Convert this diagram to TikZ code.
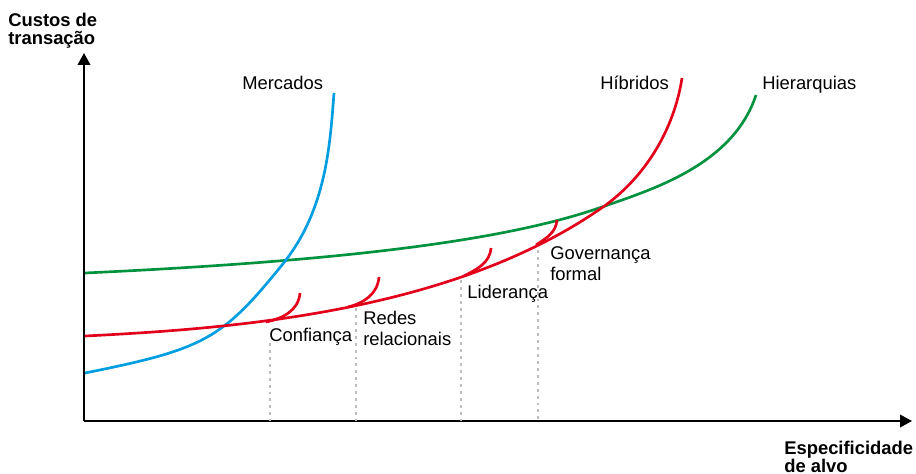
\documentclass[tikz,border=0pt]{standalone}
\usepackage{fontspec}
\setmainfont{Liberation Sans}
\usetikzlibrary{arrows.meta}
\definecolor{mktblue}{RGB}{0,158,224}
\definecolor{hybred}{RGB}{226,0,26}
\definecolor{hiergreen}{RGB}{0,146,63}
\begin{document}
\begin{tikzpicture}[x=0.75pt,y=0.75pt,>={Triangle[length=9pt,width=9.5pt]},
  axis/.style={line width=1.2pt,->},
  curve/.style={line width=2pt},
  guide/.style={gray!50,line width=1.1pt,dash pattern=on 2.2pt off 3pt},
  lbl/.style={inner sep=0pt,font=\fontsize{13.8}{15.5}\selectfont,align=left},
  axlbl/.style={inner sep=0pt,font=\fontsize{13.8}{13.5}\selectfont\bfseries,align=left}]
  \useasboundingbox (0,0) rectangle (916,-474);

  \coordinate (O) at (84,-421);
  \coordinate (Y) at (84,-53);
  \coordinate (X) at (912,-421);
  \draw[axis] (O) -- (Y);
  \draw[axis] (O) -- (X);

  \node[axlbl,anchor=base west] (yl) at (8,-45) {Custos de\\transação};
  \node[axlbl,anchor=base west] (xl) at (784,-472) {Especificidade\\de alvo};

  \draw[guide] (270,-343) -- (270,-421);
  \draw[guide] (356,-308) -- (356,-421);
  \draw[guide] (461,-280) -- (461,-421);
  \draw[guide] (538,-250) -- (538,-421);

  \draw[curve,hiergreen] (85,-273) .. controls (335,-261.25) and (502,-242) .. (602,-207)
    .. controls (652,-189.5) and (733,-165) .. (756,-95);
  \draw[curve,mktblue] (85,-373) .. controls (205,-349) and (222,-339) .. (282,-265)
    .. controls (327,-210) and (330,-143) .. (334,-93);
  \draw[curve,hybred] (85,-336) .. controls (235,-328.5) and (453,-312) .. (603,-207)
    .. controls (638,-182.5) and (672.6,-138) .. (682,-78);

  \draw[curve,hybred] (266,-322) to[out=12,in=-95] (300,-293);
  \draw[curve,hybred] (348,-307) to[out=14,in=-95] (379,-277);
  \draw[curve,hybred] (464,-276) to[out=28,in=-95] (491,-248);
  \draw[curve,hybred] (536,-245) to[out=34,in=-95] (557,-220);

  \node[lbl,anchor=base west] (mkt) at (242,-90) {Mercados};
  \node[lbl,anchor=base west] (hyb) at (600,-90) {Híbridos};
  \node[lbl,anchor=base west] (hier) at (762,-90) {Hierarquias};
  \node[lbl,anchor=base west] (conf) at (269,-341) {Confiança};
  \node[lbl,anchor=base west] (redes) at (363,-345) {Redes\\relacionais};
  \node[lbl,anchor=base west] (lid) at (467,-298) {Liderança};
  \node[lbl,anchor=base west] (gov) at (550,-280) {Governança\\formal};
\end{tikzpicture}
\end{document}
